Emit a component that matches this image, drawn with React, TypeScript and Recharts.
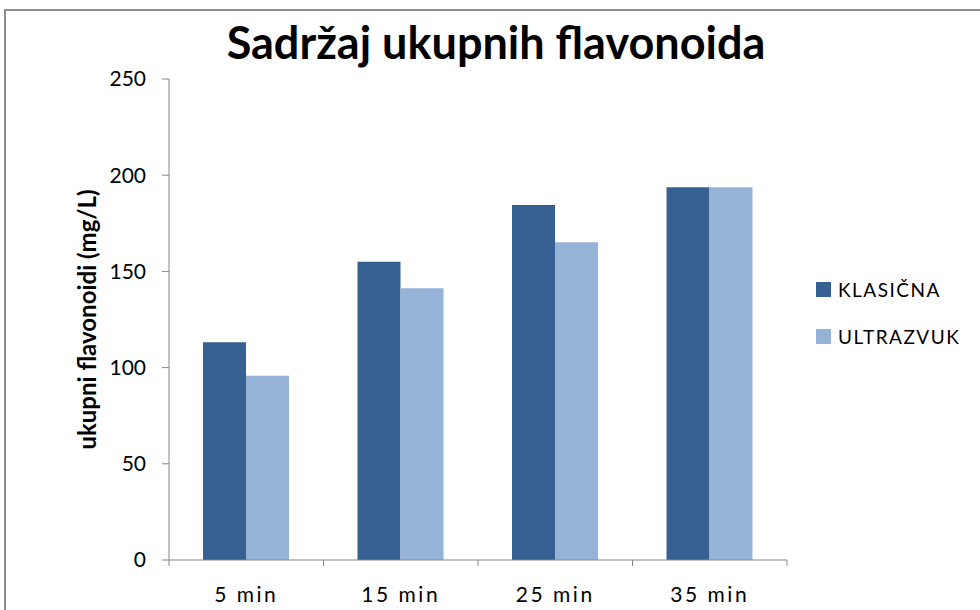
import { Bar, BarChart, Label, XAxis, YAxis } from "recharts";

const CATEGORIES = ["5 min", "15 min", "25 min", "35 min"];
const KLASICNA = [113.2, 155.0, 184.5, 193.7];
const ULTRAZVUK = [95.8, 141.2, 165.1, 193.7];
const Y_TICKS = [0, 50, 100, 150, 200, 250];

const SERIES = [
  { key: "klasicna", name: "KLASIČNA", color: "#376092" },
  { key: "ultrazvuk", name: "ULTRAZVUK", color: "#95B3D7" },
];

const W = 980;
const H = 610;
const TOP = 79;
const LEFT = 169;
const RIGHT = 193;
const X_AXIS_H = 50;
const PLOT_W = W - LEFT - RIGHT;
const AXIS_Y = H - X_AXIS_H;
const AXIS = "#868686";
const FONT = "Lato, 'Open Sans', sans-serif";

const data = CATEGORIES.map((c, i) => ({ name: c, klasicna: KLASICNA[i], ultrazvuk: ULTRAZVUK[i] }));

function XTick(props: any) {
  const { x, payload, index } = props;
  const half = PLOT_W / CATEGORIES.length / 2;
  return (
    <g>
      <line x1={x - half} x2={x - half} y1={AXIS_Y} y2={AXIS_Y + 6} stroke={AXIS} />
      {index === CATEGORIES.length - 1 && (
        <line x1={x + half} x2={x + half} y1={AXIS_Y} y2={AXIS_Y + 6} stroke={AXIS} />
      )}
      <text x={x} y={AXIS_Y + 42} textAnchor="middle" fontSize={21} fill="#000" fontFamily={FONT} letterSpacing={2.5}>
        {payload.value}
      </text>
    </g>
  );
}

export default function App() {
  return (
    <div style={{ position: "fixed", left: 0, top: 0, width: W, height: H, background: "#fff", overflow: "hidden" }}>
      <div
        style={{
          position: "absolute",
          left: 4,
          top: 9,
          width: W,
          height: H,
          borderTop: "2px solid #8c8c8c",
          borderLeft: "2px solid #8c8c8c",
        }}
      />
      <div
        style={{
          position: "absolute",
          left: 6,
          top: 12,
          width: W,
          textAlign: "center",
          fontFamily: FONT,
          fontWeight: 700,
          fontSize: 45,
          lineHeight: "60px",
          color: "#000",
        }}
      >
        Sadržaj ukupnih flavonoida
      </div>
      <div style={{ position: "absolute", left: 0, top: 0 }}>
        <BarChart width={W} height={H} data={data} margin={{ top: TOP, right: RIGHT, bottom: 0, left: 0 }} barCategoryGap={34} barGap={0}>
          <XAxis dataKey="name" height={X_AXIS_H} stroke={AXIS} tickLine={false} tick={<XTick />} interval={0} />
          <YAxis
            width={LEFT}
            domain={[0, 250]}
            ticks={Y_TICKS}
            stroke={AXIS}
            tickSize={7}
            tickMargin={16}
            tick={{ fill: "#000", fontSize: 21, fontFamily: FONT }}
          >
            <Label
              content={(p: any) => {
                const vb = p.viewBox;
                const cx = vb.x + 86;
                const cy = vb.y + vb.height / 2;
                return (
                  <text
                    x={cx}
                    y={cy}
                    transform={`rotate(-90 ${cx} ${cy})`}
                    textAnchor="middle"
                    dominantBaseline="central"
                    fontSize={24}
                    fontWeight={700}
                    fontFamily={FONT}
                    fill="#000"
                  >
                    ukupni flavonoidi (mg/L)
                  </text>
                );
              }}
            />
          </YAxis>
          {SERIES.map((s) => (
            <Bar key={s.key} dataKey={s.key} name={s.name} fill={s.color} isAnimationActive={false} />
          ))}
        </BarChart>
      </div>
      {SERIES.map((s, i) => (
        <div
          key={s.key}
          style={{
            position: "absolute",
            left: 816,
            top: 278 + i * 47,
            height: 22,
            display: "flex",
            alignItems: "center",
            fontFamily: FONT,
            fontSize: 19,
            letterSpacing: 1.5,
            color: "#000",
            whiteSpace: "nowrap",
          }}
        >
          <span style={{ display: "inline-block", width: 15, height: 15, background: s.color, marginRight: 7 }} />
          {s.name}
        </div>
      ))}
    </div>
  );
}
